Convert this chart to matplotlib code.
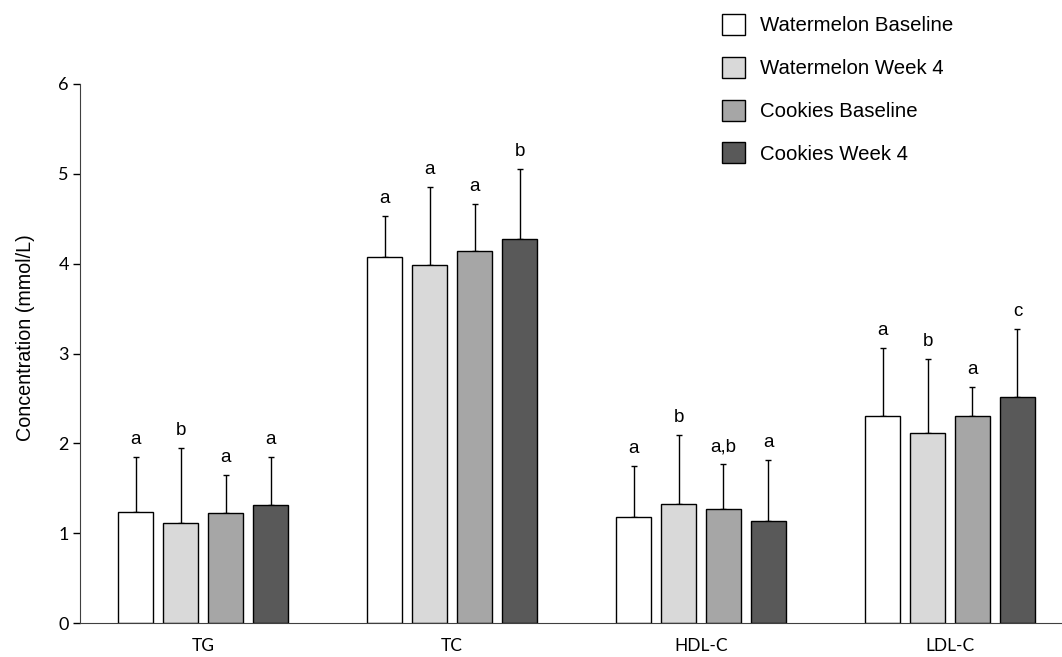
import numpy as np
import matplotlib.pyplot as plt

# lipid panel, mean and SD per group
categories = ["TG", "TC", "HDL-C", "LDL-C"]
groups = ["Watermelon Baseline", "Watermelon Week 4", "Cookies Baseline", "Cookies Week 4"]

means = [
    [1.24, 4.07, 1.18, 2.30],  # Watermelon Baseline
    [1.11, 3.98, 1.33, 2.12],  # Watermelon Week 4
    [1.23, 4.14, 1.27, 2.30],  # Cookies Baseline
    [1.31, 4.27, 1.14, 2.52],  # Cookies Week 4
]
sds = [
    [0.61, 0.46, 0.57, 0.76],
    [0.84, 0.87, 0.76, 0.82],
    [0.42, 0.52, 0.50, 0.33],
    [0.54, 0.78, 0.68, 0.75],
]
letters = [
    ["a", "a", "a", "a"],
    ["b", "a", "b", "b"],
    ["a", "a", "a,b", "a"],
    ["a", "b", "a", "c"],
]
colors = ["#ffffff", "#d9d9d9", "#a6a6a6", "#595959"]

W, H = 1062, 657
fig = plt.figure(figsize=(W / 100, H / 100), dpi=100)
ax = fig.add_axes([80 / W, (H - 623) / H, (W - 80) / W, (623 - 84) / H])

x = np.arange(len(categories))
step = 45 / 249
width = 35 / 249
for i in range(len(groups)):
    pos = x + (i - 1.5) * step
    ax.bar(pos, means[i], width, color=colors[i], edgecolor="black",
           linewidth=1, label=groups[i], zorder=2)
    # only the upper half of the SD is drawn
    ax.errorbar(pos, means[i], yerr=[np.zeros(4), sds[i]], fmt="none",
                ecolor="black", elinewidth=1, capsize=2.5, capthick=1, zorder=1)
    for j in range(len(categories)):
        ax.text(pos[j], means[i][j] + sds[i][j] + 0.1, letters[i][j],
                ha="center", va="bottom", fontsize=13.5, family="Liberation Sans")

x0 = -0.5 + 1.5 / 249
ax.set_xlim(x0, x0 + (W - 80) / 249)
ax.set_ylim(0, 6)
ax.set_yticks(range(7))
ax.set_xticks(x)
ax.set_xticklabels(categories, family="Lato", fontsize=12.5)
for t in ax.get_yticklabels():
    t.set_family("Lato")
    t.set_fontsize(13)
ax.tick_params(axis="x", length=0, pad=11)
ax.tick_params(axis="y", length=5, width=1, pad=3)
ax.spines["top"].set_visible(False)
ax.spines["right"].set_visible(False)
ax.spines["left"].set_color("#404040")
ax.spines["bottom"].set_color("#404040")
ax.set_ylabel("Concentration (mmol/L)", family="Liberation Sans", fontsize=14.2)
ax.yaxis.set_label_coords(-0.046, 0.529)

ax.legend(loc="upper left", bbox_to_anchor=(722 / W, 1 - 14 / H), bbox_transform=fig.transFigure,
          frameon=False, borderpad=0, borderaxespad=0,
          prop={"family": "Liberation Sans", "size": 14.7},
          handlelength=1.14, handleheight=1.2, labelspacing=1.05, handletextpad=0.7)

fig.savefig("out.png", dpi=100)
